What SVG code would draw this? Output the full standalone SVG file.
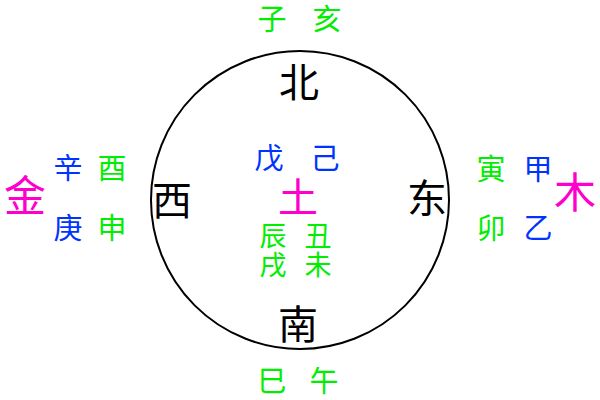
<svg xmlns="http://www.w3.org/2000/svg" width="600" height="400" viewBox="0 0 600 400">
<style>
text{font-family:"Noto Sans CJK SC","Noto Sans CJK JP",sans-serif;text-anchor:middle}
.g{fill:#00ee00;font-size:29px}
.b{fill:#0033ff;font-size:29px}
.m{fill:#ff00cc;font-size:42px}
.k{fill:#000;font-size:40px}
.s{font-size:27px}
</style>
<rect width="600" height="400" fill="#fff"/>
<g id="circle"><circle cx="300" cy="200" r="149" fill="none" stroke="#000" stroke-width="2"/></g>
<g id="north"><text class="k" x="299" y="97">北</text><text class="g" x="272" y="30">子</text><text class="g" x="327" y="30">亥</text></g>
<g id="south"><text class="k" x="298" y="339">南</text><text class="g" x="272" y="392">巳</text><text class="g" x="324" y="392">午</text></g>
<g id="west"><text class="k" x="172" y="215">西</text><text class="m" x="25" y="211">金</text><text class="b" x="68" y="179">辛</text><text class="g" x="112" y="179">酉</text><text class="b" x="68" y="239">庚</text><text class="g" x="112" y="239">申</text></g>
<g id="east"><text class="k" x="427" y="213">东</text><text class="m" x="575" y="208">木</text><text class="g" x="491" y="180">寅</text><text class="b" x="538" y="180">甲</text><text class="g" x="491" y="239">卯</text><text class="b" x="538" y="239">乙</text></g>
<g id="center"><text class="m" x="298" y="212" style="font-size:40px">土</text><text class="b" x="269" y="169">戊</text><text class="b" x="325" y="169">己</text><text class="g s" x="273" y="246">辰</text><text class="g s" x="318" y="246">丑</text><text class="g s" x="273" y="275">戌</text><text class="g s" x="318" y="275">未</text></g>
<g id="connectors"></g>
</svg>
